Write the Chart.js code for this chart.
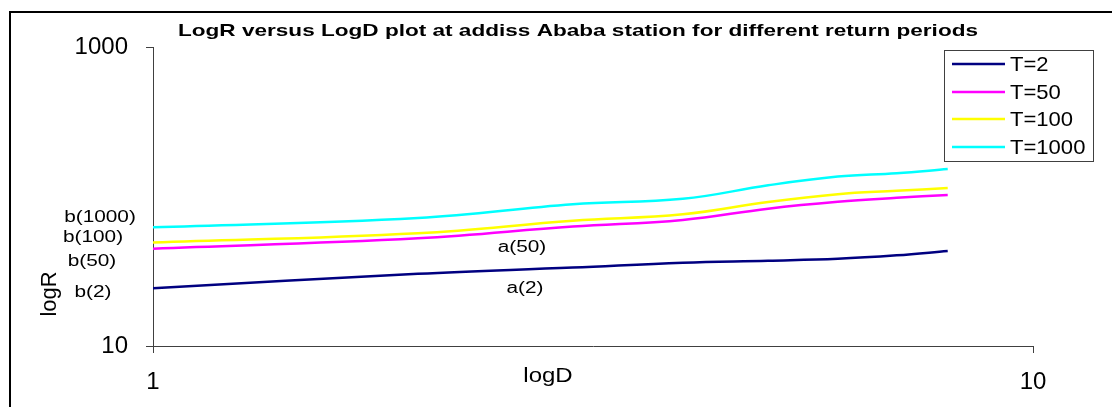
<!DOCTYPE html>
<html>
<head>
<meta charset="utf-8">
<script src="https://cdn.jsdelivr.net/npm/chart.js@4/dist/chart.umd.min.js"></script>
<style>
  html, body { margin: 0; padding: 0; background: #fff; }
  #wrap { width: 1112px; height: 407px; position: relative; }
</style>
</head>
<body>
<div id="wrap"><canvas id="idfChart" width="1112" height="407"></canvas></div>
<script>
// durations (x) and rainfall intensities (y)
const durations = [1, 2, 3, 4, 5, 6, 7, 8];
const t2 = [24.3, 30.4, 33.5, 36.1, 37.2, 38.3, 40.4, 43.2];
const t50 = [44.8, 52.5, 62.9, 69.7, 82.9, 92.2, 98.0, 102.3];
const t100 = [49.2, 56.8, 68.8, 76.0, 91.9, 103.7, 109.2, 114];
const t1000 = [62.2, 71.8, 88.7, 96.5, 118.8, 135.9, 143, 152.7];

const seriesNames = ['T=2', 'T=50', 'T=100', 'T=1000'];
const xTicks = [1, 10];
const yTicks = [10, 1000];

const colors = ['#000080', '#FF00FF', '#FFFF00', '#00FFFF'];
const FONT = '"Liberation Sans", Arial, sans-serif';
const TITLE = 'LogR versus LogD plot at addiss Ababa station for different return periods';

const toPoints = vals => vals.map((v, i) => ({ x: durations[i], y: v }));

// free text labels placed on the chart (b = intercept, a = slope)
const notes = [
    { text: 'b(1000)', x: 100, y: 218 },
    { text: 'b(100)', x: 93, y: 238 },
    { text: 'b(50)', x: 92, y: 262 },
    { text: 'b(2)', x: 93, y: 293 },
    { text: 'a(50)', x: 522, y: 248 },
    { text: 'a(2)', x: 525, y: 289 }
];

// draw text centred at (cx, cy), stretched sideways by sx
function stretchText(ctx, text, cx, cy, sx) {
    ctx.save();
    ctx.translate(cx, cy);
    ctx.scale(sx, 1);
    ctx.fillText(text, 0, 0);
    ctx.restore();
}

const decorPlugin = {
    id: 'decor',
    beforeDraw(chart) {
        const ctx = chart.ctx;
        ctx.save();
        ctx.fillStyle = '#fff';
        ctx.fillRect(0, 0, chart.width, chart.height);
        ctx.strokeStyle = '#000';
        ctx.lineWidth = 2;
        ctx.strokeRect(10, 12, 1120, 420);
        ctx.restore();
    },
    afterDraw(chart) {
        const ctx = chart.ctx;
        ctx.save();
        ctx.fillStyle = '#000';
        ctx.textBaseline = 'middle';
        ctx.textAlign = 'center';

        ctx.font = 'bold 17px ' + FONT;
        stretchText(ctx, TITLE, 578, 31, 800 / ctx.measureText(TITLE).width);

        // axis titles
        ctx.font = '20px ' + FONT;
        stretchText(ctx, 'logD', 548, 376, 1.2);
        ctx.font = '22px ' + FONT;
        ctx.save();
        ctx.translate(50, 294);
        ctx.rotate(-Math.PI / 2);
        ctx.fillText('logR', 0, 0);
        ctx.restore();

        ctx.font = '16px ' + FONT;
        notes.forEach(n => stretchText(ctx, n.text, n.x, n.y, 1.3));

        // legend box
        ctx.strokeStyle = '#404040';
        ctx.lineWidth = 1;
        ctx.strokeRect(944.5, 50.5, 149, 111);
        ctx.textAlign = 'left';
        ctx.font = '21px ' + FONT;
        const rows = [64, 92, 119, 147];
        chart.data.datasets.forEach((ds, i) => {
            ctx.strokeStyle = ds.borderColor;
            ctx.lineWidth = 2.5;
            ctx.beginPath();
            ctx.moveTo(952, rows[i]);
            ctx.lineTo(1005, rows[i]);
            ctx.stroke();
            ctx.save();
            ctx.translate(1010, rows[i] + 1);
            ctx.scale(1.05, 1);
            ctx.fillText(ds.label, 0, 0);
            ctx.restore();
        });
        ctx.restore();
    }
};

const ctx = document.getElementById('idfChart').getContext('2d');
new Chart(ctx, {
    type: 'line',
    data: {
        datasets: [t2, t50, t100, t1000].map((vals, i) => ({
            label: seriesNames[i],
            data: toPoints(vals),
            borderColor: colors[i],
            borderWidth: 2.5,
            pointRadius: 0,
            tension: 0.4,
            fill: false
        }))
    },
    options: {
        responsive: false,
        animation: false,
        layout: { padding: { left: 0, right: 79, top: 47, bottom: 0 } },
        plugins: {
            legend: { display: false },
            tooltip: { enabled: false },
            title: { display: false }
        },
        scales: {
            x: {
                type: 'logarithmic',
                min: 1,
                max: 10,
                afterBuildTicks: s => { s.ticks = xTicks.map(v => ({ value: v })); },
                afterFit: s => { s.height = 61; },
                border: { color: '#404040', width: 1 },
                grid: { display: true, drawOnChartArea: false, tickLength: 7, color: '#404040' },
                ticks: {
                    color: '#000',
                    font: { family: FONT, size: 24 },
                    padding: 15,
                    maxRotation: 0,
                    autoSkip: false,
                    callback: v => String(v)
                }
            },
            y: {
                type: 'logarithmic',
                min: 10,
                max: 1000,
                afterBuildTicks: s => { s.ticks = yTicks.map(v => ({ value: v })); },
                afterFit: s => { s.width = 153; },
                border: { color: '#404040', width: 1 },
                grid: { display: true, drawOnChartArea: false, tickLength: 7, color: '#404040' },
                ticks: {
                    color: '#000',
                    font: { family: FONT, size: 24 },
                    padding: 18,
                    autoSkip: false,
                    callback: v => String(v)
                }
            }
        }
    },
    plugins: [decorPlugin]
});
</script>
</body>
</html>
